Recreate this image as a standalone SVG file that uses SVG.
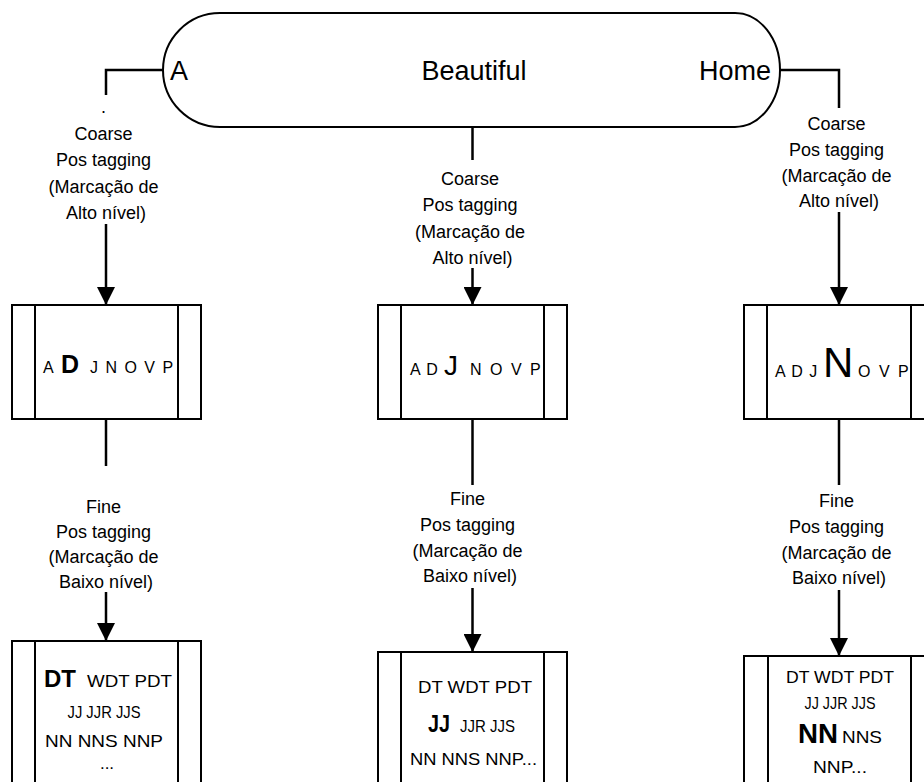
<svg xmlns="http://www.w3.org/2000/svg" width="924" height="782" viewBox="0 0 924 782">
  <defs>
    <marker id="arrow" markerUnits="userSpaceOnUse" markerWidth="18" markerHeight="18" refX="18" refY="9" orient="auto">
      <path d="M0,0 L18,9 L0,18 Z" fill="#000"/>
    </marker>
    <style>
      text { font-family: "Liberation Sans", Arial, sans-serif; fill: #000; }
      .lbl { font-size: 18px; text-anchor: middle; }
      .term { font-size: 27px; }
      .tag { font-size: 16px; }
      .fine { font-size: 17px; }
      .c { text-anchor: middle; }
      .b { font-weight: bold; }
      .shape { fill: #fff; stroke: #000; stroke-width: 2; }
      .bar { stroke: #000; stroke-width: 2; fill: none; }
      .conn { stroke: #000; stroke-width: 2.5; fill: none; }
    </style>
  </defs>
  <rect width="924" height="782" fill="#fff"/>

  <!-- connectors and their labels -->
  <g id="connectors">
    <path class="conn" d="M163,70 H106 V95"/>
    <path class="conn" d="M106,224 V305" marker-end="url(#arrow)"/>
    <path class="conn" d="M472.5,127 V160"/>
    <path class="conn" d="M472.5,268 V305" marker-end="url(#arrow)"/>
    <path class="conn" d="M780,70 H839 V108"/>
    <path class="conn" d="M839,212 V305" marker-end="url(#arrow)"/>

    <path class="conn" d="M106,419 V466"/>
    <path class="conn" d="M106,592 V641" marker-end="url(#arrow)"/>
    <path class="conn" d="M472.5,419 V485"/>
    <path class="conn" d="M472.5,588 V652" marker-end="url(#arrow)"/>
    <path class="conn" d="M839,419 V485"/>
    <path class="conn" d="M839,590 V656" marker-end="url(#arrow)"/>

    <text class="lbl">
      <tspan x="106" y="113">.</tspan>
      <tspan x="106" y="140">Coarse</tspan>
      <tspan x="106" y="166">Pos tagging</tspan>
      <tspan x="106" y="193">(Marcação de</tspan>
      <tspan x="106" y="219">Alto  nível)</tspan>
    </text>
    <text class="lbl">
      <tspan x="472.5" y="185">Coarse</tspan>
      <tspan x="472.5" y="211">Pos tagging</tspan>
      <tspan x="472.5" y="238">(Marcação de</tspan>
      <tspan x="472.5" y="264">Alto  nível)</tspan>
    </text>
    <text class="lbl">
      <tspan x="839" y="130">Coarse</tspan>
      <tspan x="839" y="156">Pos tagging</tspan>
      <tspan x="839" y="182">(Marcação de</tspan>
      <tspan x="839" y="207">Alto  nível)</tspan>
    </text>

    <text class="lbl">
      <tspan x="106" y="513">Fine</tspan>
      <tspan x="106" y="538">Pos tagging</tspan>
      <tspan x="106" y="563">(Marcação de</tspan>
      <tspan x="106" y="588">Baixo nível)</tspan>
    </text>
    <text class="lbl">
      <tspan x="470" y="505">Fine</tspan>
      <tspan x="470" y="531">Pos tagging</tspan>
      <tspan x="470" y="557">(Marcação de</tspan>
      <tspan x="470" y="582">Baixo nível)</tspan>
    </text>
    <text class="lbl">
      <tspan x="839" y="507">Fine</tspan>
      <tspan x="839" y="533">Pos tagging</tspan>
      <tspan x="839" y="559">(Marcação de</tspan>
      <tspan x="839" y="584">Baixo nível)</tspan>
    </text>
  </g>

  <!-- sentence terminator -->
  <g id="sentence">
    <path class="shape" d="M220,13 H735 A45,57 0 0 1 735,127 H220 A57,57 0 0 1 220,13 Z"/>
    <text class="term" x="170" y="80">A</text>
    <text class="term c" x="474" y="80">Beautiful</text>
    <text class="term" x="771" y="80" text-anchor="end">Home</text>
  </g>

  <!-- coarse tag boxes -->
  <g id="coarse-a">
    <rect class="shape" x="12" y="305" width="189" height="114"/>
    <path class="bar" d="M35,305 V419 M178,305 V419"/>
    <text class="tag" x="43" y="373">A</text>
    <text class="b" x="61" y="373" font-size="25">D</text>
    <text class="tag" x="90" y="373" letter-spacing="1.5">J N O V P</text>
  </g>
  <g id="coarse-beautiful">
    <rect class="shape" x="378" y="305" width="189" height="114"/>
    <path class="bar" d="M401,305 V419 M544,305 V419"/>
    <text class="tag" x="410" y="375" letter-spacing="1">A D</text>
    <text x="444" y="375" font-size="28">J</text>
    <text class="tag" x="470" y="375" letter-spacing="2">N O V P</text>
  </g>
  <g id="coarse-home">
    <rect class="shape" x="744" y="305" width="190" height="114"/>
    <path class="bar" d="M767,305 V419 M911,305 V419"/>
    <text class="tag" x="775" y="377" letter-spacing="1">A D J</text>
    <text x="823" y="377" font-size="42">N</text>
    <text class="tag" x="858" y="377" letter-spacing="2">O V P</text>
  </g>

  <!-- fine tag boxes -->
  <g id="fine-a">
    <rect class="shape" x="12" y="641" width="189" height="160"/>
    <path class="bar" d="M35,641 V782 M178,641 V782"/>
    <text class="b" x="44" y="687" font-size="24">DT</text>
    <text class="fine" x="87" y="687" textLength="85" lengthAdjust="spacingAndGlyphs">WDT PDT</text>
    <text class="fine c" x="104" y="718" textLength="73" lengthAdjust="spacingAndGlyphs">JJ JJR JJS</text>
    <text class="fine c" x="104" y="747" textLength="118" lengthAdjust="spacingAndGlyphs">NN NNS NNP</text>
    <text class="fine c" x="107" y="769">...</text>
  </g>
  <g id="fine-beautiful">
    <rect class="shape" x="378" y="652" width="189" height="150"/>
    <path class="bar" d="M401,652 V782 M544,652 V782"/>
    <text class="fine c" x="475" y="693" textLength="114" lengthAdjust="spacingAndGlyphs">DT WDT PDT</text>
    <text class="b" x="428" y="732" font-size="23" textLength="22" lengthAdjust="spacingAndGlyphs">JJ</text>
    <text class="fine" x="460" y="732" textLength="55" lengthAdjust="spacingAndGlyphs">JJR JJS</text>
    <text class="fine" x="410" y="765" textLength="127" lengthAdjust="spacingAndGlyphs">NN NNS NNP...</text>
  </g>
  <g id="fine-home">
    <rect class="shape" x="744" y="656" width="190" height="150"/>
    <path class="bar" d="M768,656 V782 M911,656 V782"/>
    <text class="fine c" x="840" y="683" textLength="108" lengthAdjust="spacingAndGlyphs">DT WDT PDT</text>
    <text class="fine c" x="840" y="709" textLength="71" lengthAdjust="spacingAndGlyphs">JJ JJR JJS</text>
    <text class="b" x="798" y="743" font-size="28" textLength="40" lengthAdjust="spacingAndGlyphs">NN</text>
    <text class="fine" x="842" y="743" textLength="40" lengthAdjust="spacingAndGlyphs">NNS</text>
    <text class="fine c" x="840" y="773" textLength="54" lengthAdjust="spacingAndGlyphs">NNP...</text>
  </g>
</svg>
